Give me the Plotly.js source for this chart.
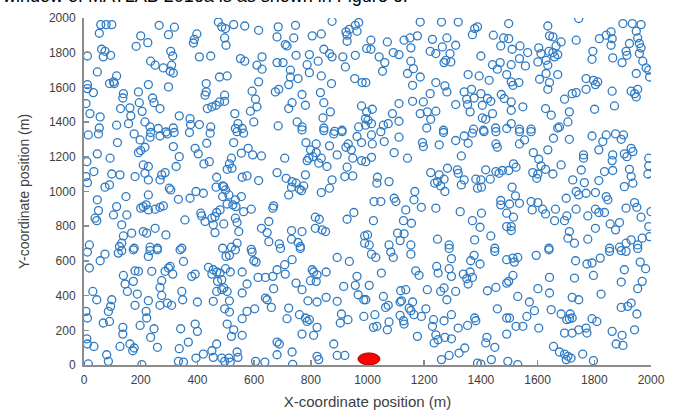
<!DOCTYPE html>
<html><head><meta charset="utf-8">
<script src="https://cdn.plot.ly/plotly-3.0.1.min.js"></script>
<style>html,body{margin:0;padding:0;background:#fff;overflow:hidden}#chart{width:676px;height:410px}</style>
</head><body><div id="chart"></div>
<script>
// Sensor node positions (m), read region by region from the figure
const nodesTopLeft = [[59,1962],[78,1962],[98,1962],[54,1912],[265,1958],[319,1947],[298,1904],[474,1977],[486,1949],[200,1897],[184,1837],[225,1858],[398,1908],[389,1877],[386,1856],[12,1781],[62,1820],[74,1808],[94,1785],[68,1776],[306,1808],[313,1781],[235,1751],[251,1728],[280,1712],[309,1728],[315,1683],[304,1693],[407,1776],[447,1781],[47,1689],[115,1666],[104,1632],[90,1622],[107,1622],[12,1616],[12,1593],[33,1570],[227,1616],[298,1603],[139,1564],[137,1539],[192,1574],[242,1539],[247,1512],[268,1478],[431,1622],[431,1574],[427,1555],[478,1660],[7,1507],[21,1449],[57,1430],[129,1478],[162,1482],[195,1512],[205,1462],[165,1436],[435,1478],[451,1488],[466,1497],[478,1516],[336,1436],[374,1420],[376,1386],[407,1386],[447,1372],[54,1366],[115,1382],[157,1391],[215,1401],[233,1372],[262,1363],[315,1366],[289,1343]];
const nodesTopMidLeft = [[499,1939],[528,1962],[567,1954],[616,1929],[496,1885],[501,1843],[685,1949],[746,1958],[681,1891],[740,1885],[710,1847],[716,1839],[805,1897],[837,1908],[875,1981],[924,1920],[936,1935],[957,1958],[969,1974],[928,1866],[928,1901],[963,1924],[748,1785],[795,1789],[826,1751],[787,1731],[846,1820],[866,1795],[875,1776],[913,1776],[957,1785],[922,1718],[552,1766],[567,1751],[628,1776],[610,1728],[628,1705],[681,1743],[702,1743],[728,1699],[728,1660],[755,1651],[722,1616],[795,1685],[837,1666],[873,1622],[955,1651],[981,1628],[505,1666],[616,1632],[593,1578],[675,1574],[687,1589],[769,1559],[781,1497],[834,1570],[846,1512],[734,1512],[722,1478],[979,1493],[496,1555],[496,1520],[605,1532],[610,1488],[587,1463],[532,1449],[599,1401],[543,1391],[558,1363],[534,1363],[685,1378],[752,1401],[769,1372],[843,1424],[869,1459],[846,1366],[910,1353],[884,1347],[969,1372],[993,1420],[993,1382]];
const nodesTopMidRight = [[1186,1977],[1261,1977],[1320,1977],[1378,1939],[1388,1949],[1370,1904],[1444,1901],[1480,1885],[1012,1872],[997,1824],[1012,1820],[1070,1862],[1129,1872],[1150,1885],[1176,1897],[1229,1877],[1280,1885],[1311,1843],[1153,1828],[1221,1808],[1241,1795],[1264,1833],[1291,1795],[1276,1756],[1270,1743],[1294,1747],[1041,1776],[1061,1743],[1091,1801],[1111,1789],[1053,1693],[1153,1751],[1162,1708],[1141,1680],[1186,1660],[1159,1612],[1241,1628],[1273,1609],[1280,1574],[1400,1781],[1470,1839],[1468,1743],[1441,1731],[1458,1705],[1355,1674],[1394,1666],[1429,1641],[1491,1674],[994,1628],[1341,1574],[1367,1589],[1400,1564],[1350,1532],[1423,1536],[1376,1539],[1472,1559],[1482,1536],[1221,1564],[1111,1507],[1159,1520],[1197,1516],[1311,1501],[1353,1501],[1405,1497],[1435,1520],[1017,1474],[997,1459],[1088,1449],[1186,1449],[1211,1459],[1241,1463],[1223,1416],[1362,1459],[1405,1424],[1417,1416],[1441,1449],[1002,1411],[1014,1391],[1056,1382],[1073,1391],[1111,1405],[1209,1366],[1268,1353],[1374,1359],[1409,1353],[1452,1366],[1491,1363]];
const nodesTopRight = [[1745,1997],[1636,1954],[1642,1897],[1654,1891],[1498,1968],[1498,1881],[1736,1872],[1683,1862],[1665,1839],[1538,1839],[1510,1820],[1565,1801],[1604,1828],[1612,1795],[1640,1808],[1654,1801],[1660,1776],[1671,1789],[1630,1756],[1536,1766],[1507,1731],[1557,1724],[1601,1747],[1636,1728],[1630,1680],[1671,1674],[1607,1647],[1642,1628],[1636,1589],[1507,1632],[1534,1628],[1513,1612],[1795,1808],[1792,1762],[1818,1881],[1842,1901],[1859,1920],[1863,1881],[1859,1843],[1901,1968],[1934,1968],[1965,1962],[1948,1924],[1953,1885],[1959,1853],[1965,1828],[1924,1853],[1912,1808],[1915,1785],[1865,1770],[1898,1743],[1959,1795],[1971,1751],[1983,1712],[1948,1680],[1992,1699],[1995,1660],[1771,1651],[1797,1641],[1812,1632],[1804,1616],[1771,1589],[1736,1570],[1722,1564],[1695,1532],[1863,1578],[1930,1578],[1942,1564],[1953,1589],[1948,1545],[1507,1516],[1507,1468],[1548,1488],[1507,1391],[1536,1359],[1577,1359],[1628,1478],[1648,1440],[1712,1459],[1707,1401],[1677,1372],[1671,1366],[1801,1474],[1871,1493]];
const nodesMidLeft = [[15,1326],[51,1332],[177,1332],[235,1340],[233,1313],[268,1320],[294,1332],[318,1340],[372,1340],[445,1336],[118,1282],[198,1297],[200,1236],[192,1224],[215,1255],[315,1259],[336,1201],[392,1249],[403,1217],[433,1278],[442,1172],[423,1159],[47,1217],[92,1192],[10,1172],[35,1115],[7,1086],[12,1051],[98,1101],[127,1096],[209,1153],[227,1144],[215,1105],[227,1067],[180,1086],[274,1096],[286,1109],[268,1067],[325,1144],[301,1019],[306,1009],[333,955],[374,961],[395,1000],[421,990],[468,1082],[466,1025],[489,1032],[489,971],[74,1025],[90,1038],[148,971],[47,952],[51,890],[39,846],[45,832],[104,865],[115,913],[151,865],[200,904],[209,913],[227,894],[251,898],[268,909],[280,917],[227,980],[219,923],[356,836],[412,875],[415,859],[427,827],[451,846],[462,855],[468,879],[480,894],[456,808],[462,763],[133,808],[168,760],[209,769],[221,760],[251,788],[289,750],[139,744],[133,702],[19,692],[125,683],[177,673],[233,679],[259,673],[345,673],[489,673]];
const nodesMidCentreLeft = [[540,1345],[563,1336],[769,1355],[846,1351],[881,1332],[910,1345],[963,1317],[979,1282],[528,1282],[579,1249],[595,1211],[626,1205],[555,1221],[520,1192],[513,1159],[505,1128],[522,1134],[783,1282],[819,1274],[799,1240],[819,1224],[807,1201],[793,1192],[787,1178],[837,1192],[828,1163],[857,1144],[866,1263],[893,1211],[932,1274],[924,1255],[943,1240],[948,1192],[979,1178],[708,1192],[681,1109],[713,1076],[734,1057],[748,1048],[781,1096],[732,1025],[760,1013],[775,1032],[767,1005],[722,980],[837,994],[866,1019],[875,1067],[928,1140],[920,1086],[948,1090],[558,1082],[575,1090],[616,1063],[493,1028],[499,1009],[511,980],[534,952],[555,971],[505,928],[525,923],[536,913],[563,884],[590,898],[669,917],[666,904],[493,813],[534,846],[540,821],[546,769],[652,827],[626,788],[646,763],[816,852],[830,840],[816,788],[840,779],[852,769],[732,775],[769,769],[732,725],[755,706],[763,683],[652,711],[689,698],[540,702],[520,679],[590,667],[952,879],[928,840],[990,744],[990,702]];
const nodesMidCentreRight = [[1014,1326],[1047,1345],[1111,1313],[1268,1340],[1341,1320],[1370,1336],[1411,1345],[1453,1345],[1017,1274],[1059,1288],[1194,1282],[1197,1259],[1253,1269],[1311,1294],[1355,1278],[1453,1274],[1458,1255],[1094,1224],[1141,1192],[1331,1205],[1014,1197],[994,1172],[1223,1109],[1253,1096],[1247,1057],[1237,1048],[1270,1071],[1282,1134],[1317,1125],[1320,1105],[1341,1067],[1331,1038],[1273,1000],[1258,1032],[1382,1071],[1400,1067],[1417,1125],[1433,1071],[1388,1019],[1402,1025],[1453,1115],[1464,1105],[1476,1121],[1035,1082],[1033,1048],[1076,1057],[1167,1000],[1164,952],[1190,909],[1023,942],[1047,942],[1094,961],[1100,942],[1135,894],[1241,904],[1327,884],[1370,832],[1402,875],[1397,794],[1470,948],[1470,923],[1021,832],[1127,832],[1155,817],[1000,750],[1006,692],[1076,692],[1106,760],[1129,756],[1115,717],[1153,692],[1247,725],[1288,692],[1378,721],[1435,744],[1449,673],[1491,798],[1491,875]];
const nodesMidRight = [[1536,1345],[1577,1345],[1536,1274],[1554,1297],[1656,1307],[1712,1301],[1792,1320],[1842,1326],[1875,1332],[1903,1326],[1895,1301],[1830,1288],[1816,1240],[1585,1224],[1636,1240],[1762,1211],[1762,1192],[1865,1211],[1863,1178],[1906,1217],[1915,1201],[1930,1249],[1936,1230],[1515,1159],[1524,1140],[1498,1121],[1583,1109],[1601,1101],[1597,1076],[1604,1186],[1612,1148],[1628,1128],[1654,1101],[1683,1153],[1754,1124],[1724,1067],[1765,1051],[1816,1063],[1836,1115],[1865,1121],[1924,1128],[1930,1086],[1936,1048],[1906,1028],[1992,1192],[1992,1148],[1989,1101],[1510,1025],[1522,975],[1501,928],[1536,932],[1577,942],[1601,936],[1581,894],[1618,898],[1628,871],[1663,898],[1701,961],[1736,1000],[1745,980],[1771,990],[1804,994],[1842,971],[1848,952],[1703,859],[1736,898],[1777,859],[1804,898],[1816,879],[1836,879],[1695,832],[1660,832],[1515,852],[1507,798],[1507,775],[1804,788],[1856,813],[1889,821],[1875,779],[1912,904],[1942,936],[1950,909],[1965,852],[2000,884],[1992,798],[1712,769],[1707,731],[1730,702],[1777,725],[1640,673],[1854,673],[1889,679],[1912,702],[1930,721],[1953,692],[1969,731],[1995,740]];
const nodesBottomLeft = [[12,651],[74,639],[121,645],[133,659],[174,664],[227,626],[233,659],[259,664],[339,664],[57,601],[19,559],[139,516],[145,467],[180,543],[192,540],[174,482],[239,540],[274,486],[286,540],[298,559],[304,568],[313,524],[351,597],[380,511],[392,524],[439,563],[456,549],[451,524],[468,536],[480,530],[471,482],[486,492],[345,424],[31,424],[45,376],[98,376],[94,338],[86,309],[153,424],[188,409],[180,344],[227,371],[268,447],[274,401],[268,344],[294,357],[309,344],[348,376],[400,363],[456,367],[468,424],[486,434],[7,309],[12,271],[68,242],[90,251],[219,309],[221,271],[198,228],[137,217],[137,178],[235,159],[247,209],[341,209],[392,236],[400,194],[368,132],[259,102],[10,151],[12,121],[35,107],[127,107],[162,121],[172,82],[177,98],[336,94],[468,121],[451,82],[421,63],[395,40],[80,59],[86,21],[15,6],[204,2],[333,21],[351,17],[456,44],[486,40]];
const nodesBottomCentreLeft = [[534,664],[501,626],[513,632],[593,651],[693,672],[763,672],[599,601],[607,593],[499,555],[516,536],[558,536],[614,505],[640,505],[666,511],[681,549],[708,578],[734,607],[710,524],[805,549],[810,536],[822,520],[854,536],[819,482],[799,486],[748,472],[769,434],[893,620],[936,597],[963,511],[957,459],[967,405],[987,376],[916,453],[493,444],[505,424],[558,415],[575,467],[669,440],[640,386],[646,376],[661,332],[602,324],[575,309],[558,267],[513,370],[496,324],[513,305],[505,236],[528,203],[520,165],[558,171],[722,328],[716,267],[760,290],[781,271],[787,251],[795,261],[822,217],[810,171],[769,178],[790,370],[822,363],[854,390],[893,367],[908,294],[904,242],[931,261],[987,280],[681,132],[689,121],[681,59],[734,75],[736,4],[881,121],[893,55],[920,55],[822,50],[828,31],[605,21],[638,17],[540,75],[543,44],[511,40],[496,21],[516,17]];
const nodesBottomCentreRight = [[1014,639],[1029,620],[1082,651],[1091,620],[1153,639],[1288,672],[1376,632],[1364,601],[1397,582],[1449,655],[1491,607],[1049,530],[1170,543],[1182,517],[1244,568],[1249,530],[1296,613],[1288,555],[1296,511],[1338,524],[1350,497],[1362,536],[1370,505],[1355,467],[1006,459],[994,376],[1056,395],[1117,428],[1135,434],[1120,370],[1115,363],[1159,363],[1147,328],[1153,313],[1206,324],[1164,290],[1190,280],[1211,434],[1258,424],[1270,444],[1280,376],[1311,424],[1423,428],[1453,447],[1491,472],[1458,324],[1064,332],[1073,344],[1026,290],[1021,217],[1033,223],[1076,248],[1070,203],[1115,286],[1127,255],[1129,236],[1233,261],[1229,223],[1270,255],[1296,290],[1320,213],[1353,228],[1378,271],[1382,255],[1176,165],[1241,174],[1249,146],[1235,127],[1273,159],[1296,151],[1343,98],[1323,69],[1288,55],[1421,159],[1417,127],[1449,102],[1437,31],[1261,31],[1388,11],[1400,5],[1491,271],[1491,178]];
const nodesBottomRight = [[1595,632],[1640,664],[1513,616],[1530,620],[1518,593],[1734,601],[1774,582],[1792,588],[1821,616],[1854,655],[1895,659],[1912,655],[1953,672],[1962,593],[1981,555],[1906,549],[1895,478],[1969,482],[1953,440],[1797,516],[1730,501],[1642,505],[1513,516],[1498,482],[1601,440],[1530,395],[1642,415],[1722,390],[1745,376],[1824,409],[1571,363],[1589,313],[1562,280],[1648,319],[1683,294],[1715,294],[1712,267],[1703,261],[1722,271],[1792,267],[1809,251],[1895,332],[1918,338],[1930,357],[1950,294],[1501,271],[1524,223],[1548,223],[1604,213],[1695,184],[1722,184],[1745,203],[1771,213],[1774,184],[1863,194],[1898,171],[1942,203],[1877,121],[1901,113],[1656,107],[1677,75],[1695,63],[1707,50],[1701,31],[1718,40],[1759,63],[1797,25],[1495,21],[1530,2]];

// Sink node (red) position
const sinkX = [1005];
const sinkY = [35];

const xTicks = [0,200,400,600,800,1000,1200,1400,1600,1800,2000];
const yTicks = [0,200,400,600,800,1000,1200,1400,1600,1800,2000];
const xTitle = 'X-coordinate position (m)';
const yTitle = 'Y-coordinate position (m)';
const topText = 'window of MATLAB 2016a is as shown in Figure 6.';

const allNodes = [].concat(nodesTopLeft, nodesTopMidLeft, nodesTopMidRight, nodesTopRight,
  nodesMidLeft, nodesMidCentreLeft, nodesMidCentreRight, nodesMidRight,
  nodesBottomLeft, nodesBottomCentreLeft, nodesBottomCentreRight, nodesBottomRight);

const nodeTrace = {
  type: 'scatter', mode: 'markers',
  x: allNodes.map(p => p[0]), y: allNodes.map(p => p[1]),
  marker: {symbol: 'circle-open', size: 8, color: '#2E7BC4', line: {width: 1.3, color: '#2E7BC4'}},
  cliponaxis: true, hoverinfo: 'skip', showlegend: false
};

const axisCommon = {
  range: [0, 2000], showgrid: false, zeroline: false,
  showline: true, linecolor: '#8c8c8c', linewidth: 2,
  ticks: 'inside', ticklen: 5, tickwidth: 1.5, tickcolor: '#8c8c8c',
  tickfont: {family: 'Liberation Sans, Arial, sans-serif', size: 12, color: '#404040'},
  tickmode: 'array', fixedrange: true
};

const layout = {
  width: 676, height: 410,
  margin: {l: 84, r: 25, t: 18, b: 45, pad: 0},
  paper_bgcolor: '#ffffff', plot_bgcolor: '#ffffff',
  showlegend: false,
  xaxis: Object.assign({}, axisCommon, {
    tickvals: xTicks, ticktext: xTicks.map(String), ticklabelstandoff: 3,
    title: {text: xTitle, standoff: 10, font: {family: 'Liberation Sans, Arial, sans-serif', size: 15, color: '#404040'}}
  }),
  yaxis: Object.assign({}, axisCommon, {
    tickvals: yTicks, ticktext: yTicks.map(String), ticklabelstandoff: 4,
    title: {text: yTitle, standoff: 16, font: {family: 'Liberation Sans, Arial, sans-serif', size: 14, color: '#404040'}}
  }),
  shapes: sinkX.map((sx, i) => ({
    type: 'circle', layer: 'above',
    xref: 'x', yref: 'y', xsizemode: 'pixel', ysizemode: 'pixel',
    xanchor: sx, yanchor: sinkY[i],
    x0: -11, x1: 11, y0: -6, y1: 6,
    fillcolor: '#ff0000', line: {color: '#a00000', width: 1}
  })),
  annotations: [{
    text: topText, xref: 'paper', yref: 'paper', x: -0.148, y: 1.028,
    xanchor: 'left', yanchor: 'bottom', showarrow: false,
    font: {family: 'Liberation Sans, Arial, sans-serif', size: 18, color: '#000000'}
  }]
};

Plotly.newPlot('chart', [nodeTrace], layout, {displayModeBar: false, staticPlot: true});
</script>
</body></html>
